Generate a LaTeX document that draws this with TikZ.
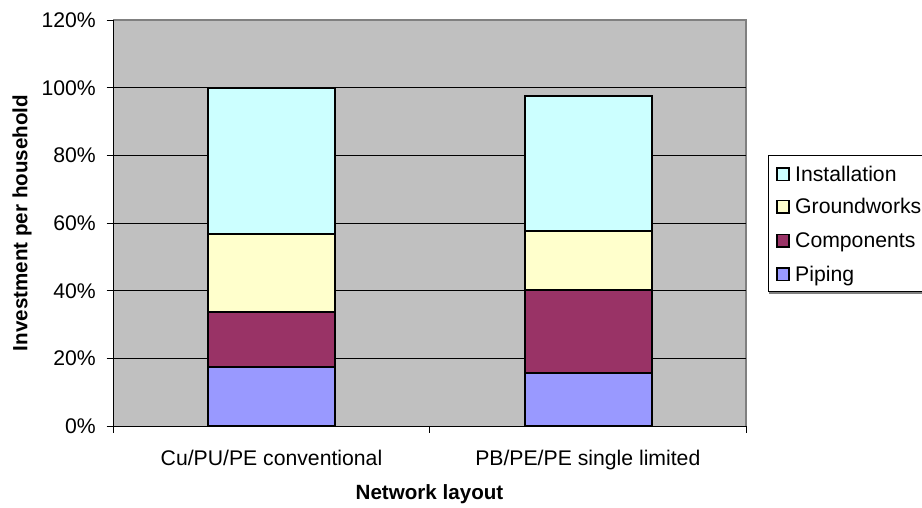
\documentclass[tikz,border=0pt]{standalone}
\usepackage{fontspec}
\setmainfont{Liberation Sans}
\definecolor{plotgray}{HTML}{C0C0C0}
\definecolor{framegray}{HTML}{808080}
\definecolor{cinst}{HTML}{CCFFFF}
\definecolor{cground}{HTML}{FFFFCC}
\definecolor{ccomp}{HTML}{993366}
\definecolor{cpipe}{HTML}{9999FF}
\tikzset{
  lbl/.style={font=\fontsize{21.2}{25}\selectfont, inner sep=0pt},
  boldlbl/.style={font=\fontsize{20.6}{24}\selectfont\bfseries, inner sep=0pt},
  segbox/.style={draw=black, line width=2pt},
  grid line/.style={draw=black, line width=0.9pt},
  keybox/.style={draw=black, line width=1.8pt, minimum size=12.5pt, inner sep=0pt},
}
\begin{document}
\begin{tikzpicture}[x=1pt, y=-1pt]
\useasboundingbox (0,0) rectangle (922,507);
\fill[white] (0,0) rectangle (922,507);
% plot area
\fill[plotgray] (113,20) rectangle (746,426);
\draw[framegray, line width=2pt] (113,20) -- (746,20) -- (746,426);
\begin{scope}[shift={(0,426)}, y=3.3833pt]
  % grid lines and y ticks
  \foreach \p in {20,40,60,80,100} {
    \draw[grid line] (113,\p) -- (746,\p);
  }
  \foreach \p in {0,20,40,60,80,100,120} {
    \draw[black, line width=0.9pt] (106.5,\p) -- (113,\p);
  }
  % bar 1
  \draw[segbox, fill=cpipe]   (208,0)    rectangle (335,17.4);
  \draw[segbox, fill=ccomp]   (208,17.4) rectangle (335,33.6);
  \draw[segbox, fill=cground] (208,33.6) rectangle (335,56.8);
  \draw[segbox, fill=cinst]   (208,56.8) rectangle (335,100);
  % bar 2
  \draw[segbox, fill=cpipe]   (525,0)    rectangle (651.5,15.6);
  \draw[segbox, fill=ccomp]   (525,15.6) rectangle (651.5,40.3);
  \draw[segbox, fill=cground] (525,40.3) rectangle (651.5,57.6);
  \draw[segbox, fill=cinst]   (525,57.6) rectangle (651.5,97.6);
\end{scope}
% axes
\draw[black, line width=1pt] (113,20) -- (113,426);
\draw[black, line width=1pt] (113,426) -- (746,426);
\foreach \x in {113,429.5,746} {
  \draw[black, line width=1pt] (\x,426) -- (\x,432.5);
}
% y tick labels
\foreach \p/\yy in {0/426,20/358.3,40/290.7,60/223,80/155.3,100/87.7,120/20} {
  \node[lbl, anchor=base east] (t\p) at (96,\yy+7.4) {\p\%};
}
% category labels
\node[lbl, anchor=base] (cat1) at (271.5,465) {Cu/PU/PE conventional};
\node[lbl, anchor=base] (cat2) at (587.8,465) {PB/PE/PE single limited};
% axis titles
\node[boldlbl, anchor=base] (xtitle) at (429.5,499.5) {Network layout};
\node[boldlbl, anchor=base, rotate=90] (ytitle) at (27.3,223) {Investment per household};
% legend
\draw[framegray, line width=2pt] (769,293.2) -- (930,293.2);
\draw[black, line width=1pt, fill=white] (768.3,155.7) rectangle (935,291.7);
\node[keybox, fill=cinst]   (k1) at (783,174.3) {};
\node[keybox, fill=cground] (k2) at (783,206.7) {};
\node[keybox, fill=ccomp]   (k3) at (783,240.7) {};
\node[keybox, fill=cpipe]   (k4) at (783,274.3) {};
\node[lbl, anchor=base west] (l1) at (795,181.5) {Installation};
\node[lbl, anchor=base west] (l2) at (795,213.9) {Groundworks};
\node[lbl, anchor=base west] (l3) at (795,247.9) {Components};
\node[lbl, anchor=base west] (l4) at (795,281.5) {Piping};
\end{tikzpicture}
\end{document}
